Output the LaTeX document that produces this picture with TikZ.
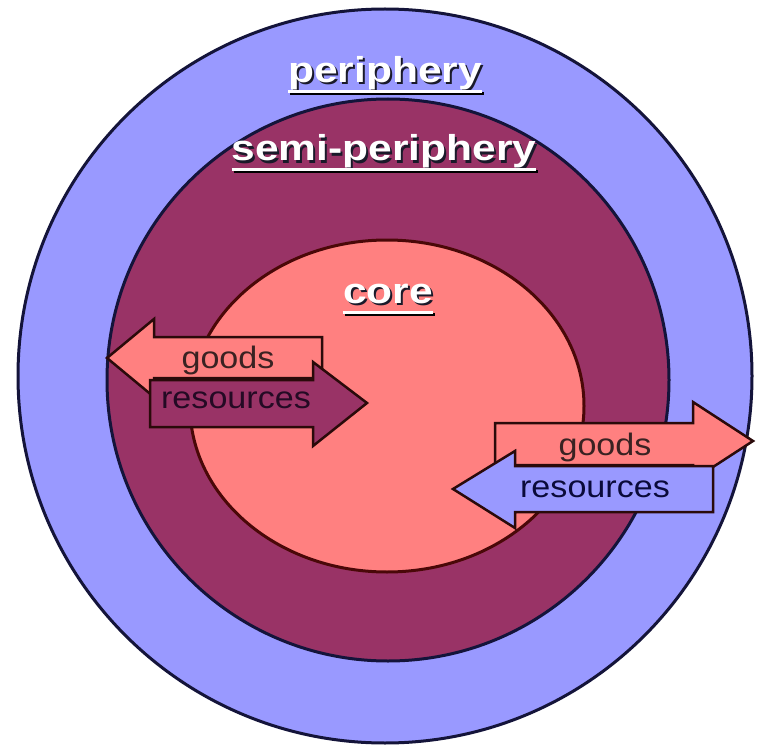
\documentclass[tikz,border=0pt]{standalone}
\usepackage{fontspec}
\setmainfont{Liberation Sans}

\definecolor{peri}{HTML}{9999FF}
\definecolor{semi}{HTML}{993366}
\definecolor{corefill}{HTML}{FF8080}
\definecolor{ringline}{HTML}{14143A}
\definecolor{coreline}{HTML}{4A0808}
\definecolor{flowline}{HTML}{2A0A0A}
\definecolor{goodsink}{HTML}{3A2222}
\definecolor{resink}{HTML}{240A24}
\definecolor{resblueink}{HTML}{0A0A3A}
\definecolor{shade}{HTML}{1A1A2A}

\newcommand{\shadowtext}[1]{\makebox[0pt][l]{\hspace{2pt}\raisebox{-2pt}{\color{shade}\scalebox{1.18}[1]{#1}}}\scalebox{1.18}[1]{#1}}

\tikzset{
  ring/.style={draw=ringline, line width=3pt},
  flow/.style={draw=flowline, line width=2.5pt, line join=miter},
  flowtext/.style={font=\fontsize{31}{31}\selectfont, inner sep=0pt, anchor=base},
  zonelabel/.style={font=\fontsize{36}{36}\selectfont\bfseries, text=white, inner sep=0pt, anchor=base},
}

\begin{document}
\begin{tikzpicture}[x=1pt,y=-1pt]
  \useasboundingbox[fill=white] (0,0) rectangle (761,749);

  % the three zones
  \draw[ring, fill=peri] (385,376) circle[radius=367];
  \draw[ring, fill=semi] (388,380) circle[radius=281];
  \draw[draw=coreline, line width=3pt, fill=corefill] (387,406) ellipse[x radius=197, y radius=166];

  % flows between core and semi-periphery
  \draw[flow, fill=corefill] (107,358) -- (154,319) -- (154,337) -- (322,337)
    -- (322,378) -- (154,378) -- (154,397) -- cycle;
  \draw[flow, fill=semi] (150,380) -- (313,380) -- (313,362) -- (367,403)
    -- (313,446) -- (313,427) -- (150,427) -- cycle;
  \node[flowtext, text=goodsink] (goodsA) at (228,368) {\scalebox{1.1}[1]{goods}};
  \node[flowtext, text=resink] (resA) at (236,408) {\scalebox{1.1}[1]{resources}};

  % flows between semi-periphery and periphery
  \draw[flow, fill=corefill] (495,423) -- (693,423) -- (693,402) -- (753,441)
    -- (693,480) -- (693,465) -- (495,465) -- cycle;
  \draw[flow, fill=peri] (453,489) -- (515,451) -- (515,466) -- (713,466)
    -- (713,512) -- (515,512) -- (515,528) -- cycle;
  \node[flowtext, text=goodsink] (goodsB) at (605,455) {\scalebox{1.1}[1]{goods}};
  \node[flowtext, text=resblueink] (resB) at (595,497) {\scalebox{1.1}[1]{resources}};

  % zone labels, white with a dark shadow, underlined
  \foreach \name/\txt/\x/\y in {per/periphery/385/83, semip/semi-periphery/384/161, cor/core/388/303} {
    \node[zonelabel] (\name) at (\x,\y) {\shadowtext{\txt}};
    \draw[shade, line width=3pt] ([shift={(2pt,-11pt)}]\name.base west) -- ([shift={(2pt,-11pt)}]\name.base east);
    \draw[white, line width=3pt] ([yshift=-9pt]\name.base west) -- ([yshift=-9pt]\name.base east);
  }
\end{tikzpicture}
\end{document}
